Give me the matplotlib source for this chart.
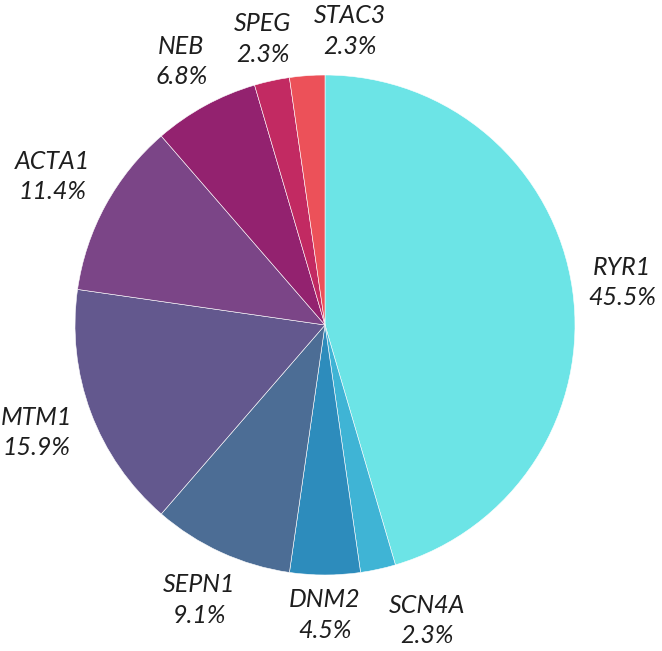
import matplotlib
matplotlib.use("Agg")
import numpy as np
import matplotlib.pyplot as plt

genes = ["RYR1", "SCN4A", "DNM2", "SEPN1", "MTM1", "ACTA1", "NEB", "SPEG", "STAC3"]
counts = [20, 1, 2, 4, 7, 5, 3, 1, 1]
colors = ["#6CE4E6", "#3FB4D5", "#2D8CBC", "#4C6D95", "#63588E", "#7B4587",
          "#93226F", "#C22A62", "#EC5159"]

# label placement styling (radius multiple, angle nudge in degrees)
label_dist = [1.20, 1.25, 1.16, 1.21, 1.23, 1.24, 1.20, 1.17, 1.18]
label_nudge = [0, 6.7, 0, 0, 0, 0, 0, 0, -9]

total = sum(counts)
labels = [f"{g}\n{100*c/total:.1f}%" for g, c in zip(genes, counts)]

fig = plt.figure(figsize=(6.62, 6.51), dpi=100)
W, H = 662, 651
cx, cy, r = 325, 325, 250
ax = fig.add_axes([(cx - r) / W, (H - cy - r) / H, 2 * r / W, 2 * r / H])
wedges, _ = ax.pie(counts, colors=colors, startangle=90,
                   counterclock=False, radius=1,
                   wedgeprops=dict(edgecolor="white", linewidth=0.4))
for w, lab, d, nd in zip(wedges, labels, label_dist, label_nudge):
    ang = np.deg2rad((w.theta1 + w.theta2) / 2 + nd)
    ax.text(d * np.cos(ang), d * np.sin(ang), lab, ha="center", va="center",
            fontsize=18, fontstyle="italic", family="Lato", color="#1e1e1e",
            linespacing=1.4, clip_on=False)
ax.set_xlim(-1, 1)
ax.set_ylim(-1, 1)
ax.set_aspect("equal")
ax.axis("off")
fig.savefig("out.png", dpi=100, facecolor="white")
